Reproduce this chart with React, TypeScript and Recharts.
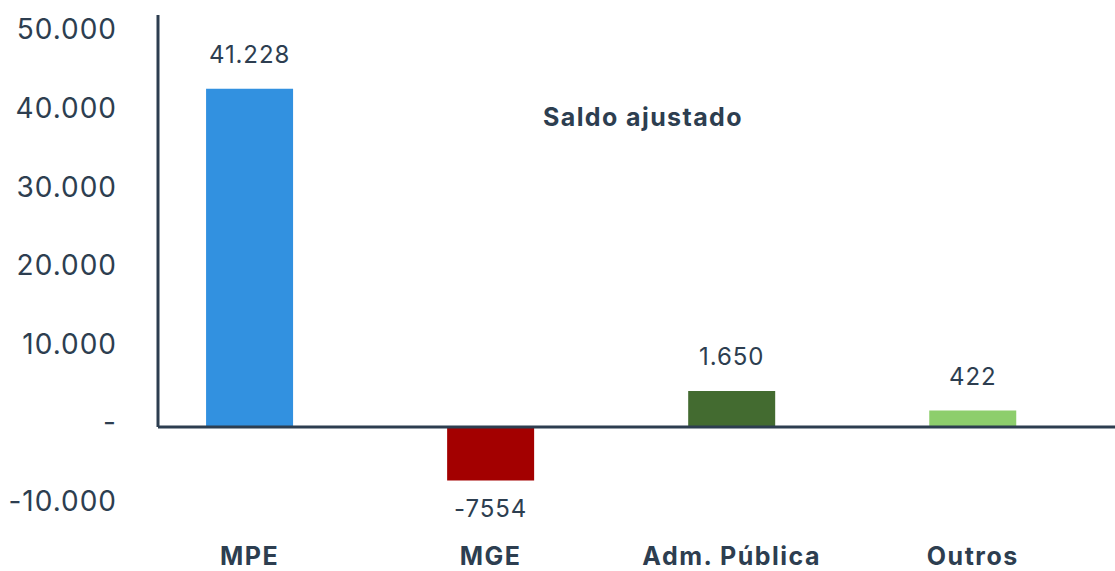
import { BarChart, Bar, XAxis, YAxis, Cell, LabelList, ReferenceLine } from "recharts";

// categories, in display order
const categories = ["MPE", "MGE", "Adm. Pública", "Outros"];
// bar heights as drawn in the picture
const barValues = [43100, -6800, 4600, 2100];
// value labels printed over the bars
const valueLabels = ["41.228", "-7554", "1.650", "422"];
const barColors = ["#3291e0", "#a30000", "#436b30", "#8dce6c"];
const yTicks = [-10000, 0, 10000, 20000, 30000, 40000, 50000];

const TEXT = "#2d3e50";
const FONT = "Inter, 'Noto Sans', sans-serif";

const data = categories.map((name, i) => ({
  idx: i,
  name,
  value: barValues[i],
  label: valueLabels[i],
}));

const fmtTick = (v: number) => {
  if (v === 0) return "-";
  const s = Math.abs(v).toString().replace(/\B(?=(\d{3})+(?!\d))/g, ".");
  return v < 0 ? "-" + s : s;
};

const ValueLabel = (props: any) => {
  const { x, y, width, height, index } = props;
  const top = Math.min(y, y + height);
  const bottom = Math.max(y, y + height);
  const neg = barValues[index] < 0;
  return (
    <text
      x={x + width / 2}
      y={neg ? bottom + 28 : top - 34}
      textAnchor="middle"
      dominantBaseline="central"
      fill={TEXT}
      fontSize={24}
      fontFamily={FONT}
      letterSpacing={0.9}
    >
      {valueLabels[index]}
    </text>
  );
};

export default function App() {
  return (
    <div style={{ position: "absolute", left: 0, top: 0, width: 1115, height: 571, background: "#fff" }}>
      <BarChart
        width={1115}
        height={571}
        data={data}
        margin={{ top: 11, right: 0, bottom: 0, left: 0 }}
      >
        <XAxis
          dataKey="idx"
          type="number"
          domain={[-0.38, 3.59]}
          ticks={[0, 1, 2, 3]}
          tickFormatter={(v) => categories[v]}
          axisLine={false}
          tickLine={false}
          tickSize={0}
          tickMargin={10}
          height={34}
          tick={{ fill: TEXT, fontSize: 25, fontWeight: 700, fontFamily: FONT, letterSpacing: 1.5 }}
        />
        <YAxis
          type="number"
          domain={[-14000, 53000]}
          ticks={yTicks}
          tickFormatter={fmtTick}
          axisLine={false}
          tickLine={false}
          tickSize={0}
          tickMargin={41}
          width={158}
          tick={{ fill: TEXT, fontSize: 28, fontFamily: FONT, dy: -5, letterSpacing: 1 }}
        />
        <Bar dataKey="value" barSize={87} isAnimationActive={false}>
          {data.map((d, i) => (
            <Cell key={d.name} fill={barColors[i]} />
          ))}
          <LabelList dataKey="label" content={<ValueLabel />} />
        </Bar>
        <ReferenceLine y={0} stroke={TEXT} strokeWidth={3} />
        <ReferenceLine
          segment={[
            { x: -0.38, y: 0 },
            { x: -0.38, y: 52500 },
          ]}
          stroke={TEXT}
          strokeWidth={3}
        />
      </BarChart>
      <div
        style={{
          position: "absolute",
          left: 443,
          width: 400,
          top: 101,
          textAlign: "center",
          fontFamily: FONT,
          fontWeight: 700,
          fontSize: 25,
          letterSpacing: 1.4,
          color: TEXT,
          lineHeight: "32px",
        }}
      >
        Saldo ajustado
      </div>
    </div>
  );
}
